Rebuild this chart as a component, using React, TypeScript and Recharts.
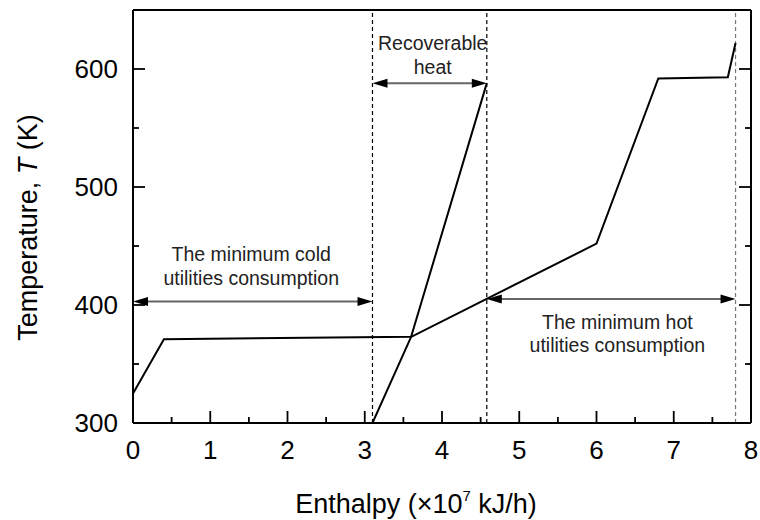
import { ComposedChart, Line, XAxis, YAxis, ReferenceLine, ReferenceDot } from "recharts";

// composite curves (H in 1e7 kJ/h, T in K)
const curve1 = [
  { h: 0, t: 325 },
  { h: 0.4, t: 371 },
  { h: 3.6, t: 373 },
  { h: 4.58, t: 588 },
];
const curve2 = [
  { h: 3.1, t: 300 },
  { h: 3.6, t: 373 },
  { h: 6.0, t: 452 },
  { h: 6.8, t: 592 },
  { h: 7.7, t: 593 },
  { h: 7.8, t: 622 },
];

const xTicks = [0, 0.5, 1, 1.5, 2, 2.5, 3, 3.5, 4, 4.5, 5, 5.5, 6, 6.5, 7, 7.5, 8];
const yTicks = [300, 350, 400, 450, 500, 550, 600];

const dividers = [3.1, 4.58, 7.8];
const arrows = [
  { from: 0, to: 3.1, t: 403 },
  { from: 3.1, to: 4.58, t: 588 },
  { from: 4.58, to: 7.8, t: 405 },
];
const notes = [
  { h: 1.53, t: 433, lines: ["The minimum cold", "utilities consumption"] },
  { h: 3.88, t: 612, lines: ["Recoverable", "heat"] },
  { h: 6.27, t: 375.7, lines: ["The minimum hot", "utilities consumption"] },
];

const font = "'Liberation Sans', Arial, sans-serif";
const W = 760;
const H = 520;
const rightGap = 9;
const plotRight = W - rightGap;

const xTick = (props: any) => {
  const { x, y, payload } = props;
  const major = Number.isInteger(payload.value);
  const len = major ? 12 : 6;
  return (
    <g>
      <path d={`M${x},${y}V${y - len}`} stroke="#000" strokeWidth={1.8} fill="none" />
      {major && (
        <text x={x} y={y + 36} textAnchor="middle" fontSize={26} fontFamily={font} fill="#000">
          {payload.value}
        </text>
      )}
    </g>
  );
};

// left ticks, plus the mirrored ones on the right edge of the frame
const yTick = (props: any) => {
  const { x, y, payload } = props;
  const major = payload.value % 100 === 0;
  const len = major ? 12 : 6;
  return (
    <g>
      <path d={`M${x},${y}H${x + len}`} stroke="#000" strokeWidth={1.8} fill="none" />
      <path d={`M${plotRight},${y}H${plotRight - len}`} stroke="#000" strokeWidth={1.8} fill="none" />
      {major && (
        <text x={x - 15} y={y + 9} textAnchor="end" fontSize={26} fontFamily={font} fill="#000">
          {payload.value}
        </text>
      )}
    </g>
  );
};

function XTitle(props: any) {
  const vb = props.viewBox;
  return (
    <text x={vb.x + vb.width / 2 - 26} y={513} textAnchor="middle" fontSize={27} fontFamily={font} fill="#000">
      Enthalpy (×10
      <tspan dy={-12} fontSize={15}>7</tspan>
      <tspan dy={12}> kJ/h)</tspan>
    </text>
  );
}

function YTitle(props: any) {
  const vb = props.viewBox;
  const cx = 28;
  const cy = vb.y + vb.height / 2 + 11;
  return (
    <text
      x={cx}
      y={cy}
      transform={`rotate(-90 ${cx} ${cy})`}
      textAnchor="middle"
      dominantBaseline="central"
      fontSize={27}
      fontFamily={font}
      fill="#000"
    >
      Temperature, <tspan fontStyle="italic">T</tspan> (K)
    </text>
  );
}

function Arrow(props: any) {
  const { x1, y1, x2 } = props;
  const len = 15;
  const half = 4.5;
  return (
    <g>
      <line x1={x1 + len - 2} y1={y1} x2={x2 - len + 2} y2={y1} stroke="#666" strokeWidth={2} />
      <polygon points={`${x1},${y1} ${x1 + len},${y1 - half} ${x1 + len},${y1 + half}`} fill="#000" />
      <polygon points={`${x2},${y1} ${x2 - len},${y1 - half} ${x2 - len},${y1 + half}`} fill="#000" />
    </g>
  );
}

function noteShape(lines: string[]) {
  return (props: any) => (
    <text x={props.cx} y={props.cy} textAnchor="middle" fontSize={19.5} fontFamily={font} fill="#222">
      <tspan x={props.cx} dy={-5}>{lines[0]}</tspan>
      <tspan x={props.cx} dy={23.7}>{lines[1]}</tspan>
    </text>
  );
}

export default function App() {
  return (
    <div style={{ position: "absolute", left: 0, top: 0, background: "#fff" }}>
      <ComposedChart width={W} height={H} margin={{ top: 0, right: 0, bottom: 0, left: 0 }}>
        <XAxis
          dataKey="h"
          type="number"
          domain={[0, 8]}
          ticks={xTicks}
          interval={0}
          allowDataOverflow
          height={97}
          tickLine={false}
          tickSize={0}
          tickMargin={0}
          tick={xTick}
          axisLine={{ stroke: "#000", strokeWidth: 2 }}
          label={{ content: XTitle }}
        />
        <XAxis
          xAxisId="top"
          orientation="top"
          type="number"
          domain={[0, 8]}
          height={10}
          tick={false}
          tickLine={false}
          axisLine={{ stroke: "#000", strokeWidth: 2 }}
        />
        <YAxis
          type="number"
          domain={[300, 650]}
          ticks={yTicks}
          interval={0}
          allowDataOverflow
          width={133}
          tickLine={false}
          tickSize={0}
          tickMargin={0}
          tick={yTick}
          axisLine={{ stroke: "#000", strokeWidth: 2 }}
          label={{ content: YTitle }}
        />
        <YAxis
          yAxisId="right"
          orientation="right"
          type="number"
          domain={[300, 650]}
          width={rightGap}
          tick={false}
          tickLine={false}
          axisLine={{ stroke: "#000", strokeWidth: 2 }}
        />

        {dividers.map((d, i) => (
          <ReferenceLine
            key={"d" + i}
            x={d}
            stroke={i === 2 ? "#777" : "#000"}
            strokeWidth={1.2}
            strokeDasharray="4 3"
          />
        ))}

        <Line data={curve1} dataKey="t" type="linear" stroke="#000" strokeWidth={2} dot={false} isAnimationActive={false} />
        <Line data={curve2} dataKey="t" type="linear" stroke="#000" strokeWidth={2} dot={false} isAnimationActive={false} />

        {arrows.map((a, i) => (
          <ReferenceLine
            key={"a" + i}
            segment={[
              { x: a.from, y: a.t },
              { x: a.to, y: a.t },
            ]}
            shape={Arrow}
          />
        ))}

        {notes.map((n, i) => (
          <ReferenceDot key={"n" + i} x={n.h} y={n.t} r={0} shape={noteShape(n.lines)} />
        ))}
      </ComposedChart>
    </div>
  );
}
